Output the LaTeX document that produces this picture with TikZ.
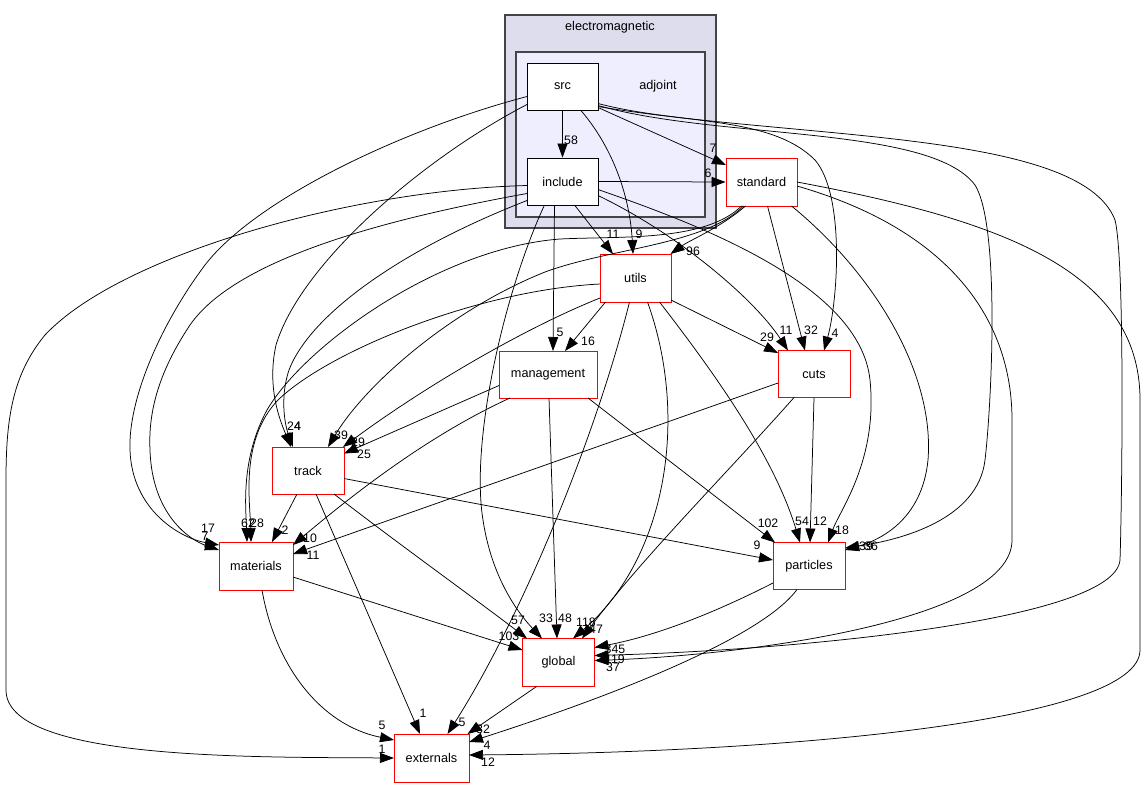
\documentclass[tikz,border=0pt]{standalone}
\usepackage{fontspec}
\setmainfont{Liberation Sans}
\usetikzlibrary{arrows.meta,calc}
\definecolor{clout}{HTML}{DDDDEE}
\definecolor{clin}{HTML}{EEEEFF}
\definecolor{clbd}{HTML}{444444}
\begin{document}
\begin{tikzpicture}[x=1pt,y=-1pt,
  dirbox/.style={draw=red,line width=0.8pt,fill=white,inner sep=0pt,minimum height=47pt,font=\fontsize{12.7}{14}\selectfont},
  curbox/.style={draw=black,line width=0.8pt,fill=white,inner sep=0pt,minimum height=47pt,minimum width=71pt,font=\fontsize{12.7}{14}\selectfont},
  dep/.style={draw=black,line width=0.75pt,-{Triangle[length=14pt,width=10pt]}},
  lbl/.style={inner sep=0pt,font=\fontsize{12.3}{14}\selectfont},
  cllbl/.style={inner sep=0pt,font=\fontsize{12.7}{14}\selectfont}]
\useasboundingbox (0,0) rectangle (1147,788);
\fill[white] (0,0) rectangle (1147,788);
% clusters
\draw[fill=clout,draw=clbd,line width=1.4pt] (505,15) rectangle (716,228);
\node[cllbl] (cem) at (610,27) {electromagnetic};
\draw[fill=clin,draw=clbd,line width=1.4pt] (516,52) rectangle (705,217);
\node[cllbl] (cadj) at (658,86) {adjoint};
% nodes
\node[curbox] (src) at (562.5,86.5) {src};
\node[curbox] (include) at (562.5,181.5) {include};
\node[dirbox,minimum width=71pt,minimum height=48pt] (standard) at (761.5,182) {standard};
\node[dirbox,minimum width=71pt,minimum height=48pt] (utils) at (635.5,278) {utils};
\node[dirbox,minimum width=98pt] (management) at (548,374.5) {management};
\node[dirbox,minimum width=72pt] (cuts) at (814,374) {cuts};
\node[dirbox,minimum width=72pt] (track) at (308,470.5) {track};
\node[dirbox,minimum width=74pt,minimum height=48pt] (materials) at (256,566) {materials};
\node[dirbox,minimum width=72pt] (particles) at (809,566) {particles};
\node[dirbox,minimum width=72pt,minimum height=48pt] (global) at (558.5,662.5) {global};
\node[dirbox,minimum width=75pt,minimum height=48pt] (externals) at (431.5,758) {externals};
% edges from src
\draw[dep] (src.south) -- (include.north);
\draw[dep] ($(src)+(35.5,21)$) -- ($(standard)+(-35.5,-17)$);
\draw[dep] ($(src)+(18,23.5)$) .. controls (615,150) and (630,200) .. ($(utils)+(-2.5,-24)$);
\draw[dep] ($(src)+(35.5,17)$) .. controls (680,125) and (770,115) .. (815,160) .. controls (845,195) and (838,300) .. ($(cuts)+(10,-23.5)$);
\draw[dep] ($(src)+(35.5,19)$) .. controls (720,140) and (930,125) .. (975,185) .. controls (1000,225) and (992,400) .. (985,460) .. controls (978,520) and (900,540) .. ($(particles)+(36,-18)$);
\draw[dep] ($(src)+(35.5,20)$) .. controls (800,140) and (1080,130) .. (1115,220) .. controls (1125,260) and (1122,500) .. (1120,560) .. controls (1115,620) and (800,650) .. ($(global)+(36,-7)$);
\draw[dep] ($(src)+(-35.5,10)$) .. controls (400,130) and (255,200) .. (205,265) .. controls (160,325) and (128,400) .. (130,450) .. controls (132,510) and (180,538) .. ($(materials)+(-37,-21)$);
\draw[dep] ($(src)+(-35.5,18)$) .. controls (420,160) and (300,265) .. (276,345) .. controls (266,390) and (282,425) .. ($(track)+(-17,-23.5)$);
% edges from include
\draw[dep] (include.east) -- (standard.west);
\draw[dep] ($(include)+(12,23.5)$) -- ($(utils)+(-22.5,-24)$);
\draw[dep] ($(include)+(-8,23.5)$) -- ($(management)+(5,-23.5)$);
\draw[dep] ($(include)+(-18,23.5)$) .. controls (505,290) and (470,440) .. (483,520) .. controls (492,580) and (520,615) .. ($(global)+(-16.5,-24)$);
\draw[dep] ($(include)+(35.5,14)$) .. controls (680,235) and (755,300) .. ($(cuts)+(-26,-23.5)$);
\draw[dep] ($(include)+(35.5,8)$) .. controls (700,225) and (860,285) .. (870,380) .. controls (878,460) and (840,510) .. ($(particles)+(19,-23.5)$);
\draw[dep] ($(include)+(-35.5,4)$) .. controls (350,190) and (120,255) .. (45,335) .. controls (12,375) and (6,420) .. (6,480) -- (6,690) .. controls (6,760) and (250,757) .. ($(externals)+(-37.5,0)$);
\draw[dep] ($(include)+(-35.5,12)$) .. controls (380,220) and (235,260) .. (190,325) .. controls (160,370) and (148,410) .. (150,450) .. controls (152,515) and (190,540) .. ($(materials)+(-37,-16)$);
\draw[dep] ($(include)+(-35.5,19)$) .. controls (400,250) and (310,315) .. (289,370) .. controls (279,400) and (286,428) .. ($(track)+(-15,-23.5)$);
% edges from standard
\draw[dep] ($(standard)+(-16,24)$) .. controls (720,228) and (690,240) .. ($(utils)+(35,-24)$);
\draw[dep] ($(standard)+(6,24)$) -- ($(cuts)+(-9,-23.5)$);
\draw[dep] ($(standard)+(30,24)$) .. controls (870,270) and (935,370) .. (928,460) .. controls (922,520) and (880,540) .. ($(particles)+(36,-16)$);
\draw[dep] ($(standard)+(35.5,4)$) .. controls (950,230) and (1012,320) .. (1012,420) -- (1012,540) .. controls (1012,620) and (750,655) .. ($(global)+(36,-2)$);
\draw[dep] ($(standard)+(35.5,0)$) .. controls (1000,220) and (1140,270) .. (1140,400) -- (1140,650) .. controls (1140,720) and (800,752) .. ($(externals)+(37.5,-3)$);
\draw[dep] ($(standard)+(-20,24)$) .. controls (705,242) and (620,236) .. (560,239) .. controls (440,248) and (305,345) .. (267,410) .. controls (240,460) and (246,510) .. ($(materials)+(-9,-24)$);
\draw[dep] ($(standard)+(-18,24)$) .. controls (705,245) and (610,248) .. (545,272) .. controls (450,310) and (365,385) .. ($(track)+(20,-23.5)$);
% edges from utils
\draw[dep] ($(utils)+(-30,24)$) -- ($(management)+(17,-23.5)$);
\draw[dep] ($(utils)+(35.5,22)$) -- ($(cuts)+(-36,-21)$);
\draw[dep] ($(utils)+(24,24)$) .. controls (720,380) and (775,460) .. ($(particles)+(-9,-23.5)$);
\draw[dep] ($(utils)+(12,24)$) .. controls (690,420) and (665,560) .. ($(global)+(14.5,-24)$);
\draw[dep] ($(utils)+(-6,24)$) .. controls (595,440) and (520,620) .. ($(externals)+(16,-24)$);
\draw[dep] ($(utils)+(-35.5,6)$) .. controls (480,290) and (330,350) .. (278,400) .. controls (240,440) and (250,500) .. ($(materials)+(-5,-24)$);
\draw[dep] ($(utils)+(-35.5,20)$) .. controls (520,330) and (420,390) .. ($(track)+(35,-23.5)$);
% edges from management
\draw[dep] ($(management)+(-49,11)$) -- ($(track)+(36,-17)$);
\draw[dep] ($(management)+(-38,23.5)$) .. controls (440,430) and (370,480) .. ($(materials)+(37,-21)$);
\draw[dep] ($(management)+(1,23.5)$) -- ($(global)+(-1.5,-24)$);
\draw[dep] ($(management)+(40,23.5)$) -- ($(particles)+(-34,-23.5)$);
% edges from cuts
\draw[dep] ($(cuts)+(-36,9)$) -- ($(materials)+(37,-12)$);
\draw[dep] ($(cuts)+(-20,23.5)$) .. controls (730,470) and (640,560) .. ($(global)+(23.5,-24)$);
\draw[dep] (cuts.south) -- ($(particles)+(1,-23.5)$);
% edges from track
\draw[dep] ($(track)+(-11,23.5)$) -- ($(materials)+(16,-24)$);
\draw[dep] ($(track)+(36,8)$) -- ($(particles)+(-36,-6)$);
\draw[dep] ($(track)+(26,23.5)$) .. controls (400,545) and (470,595) .. ($(global)+(-31.5,-24)$);
\draw[dep] ($(track)+(8,23.5)$) -- ($(externals)+(-11.5,-24)$);
% edges from materials
\draw[dep] ($(materials)+(37,11)$) -- ($(global)+(-36,-12.5)$);
\draw[dep] ($(materials)+(6,24)$) .. controls (275,665) and (320,725) .. ($(externals)+(-37.5,-18)$);
% edges from particles
\draw[dep] ($(particles)+(-36,17)$) .. controls (720,610) and (660,635) .. ($(global)+(36,-15)$);
\draw[dep] ($(particles)+(-12,23.5)$) .. controls (760,640) and (600,700) .. ($(externals)+(37.5,-16)$);
% edge from global
\draw[dep] ($(global)+(-22,24)$) -- ($(externals)+(36,-24)$);
% labels
\node[lbl] (l58) at (571,140) {58};
\node[lbl] (l7s) at (713,148) {7};
\node[lbl] (l6) at (708,173) {6};
\node[lbl] (l11u) at (613,234) {11};
\node[lbl] (l9u) at (639,234) {9};
\node[lbl] (l96) at (693,251) {96};
\node[lbl] (l5m) at (560,332) {5};
\node[lbl] (l16) at (588,341) {16};
\node[lbl] (l29c) at (767,337) {29};
\node[lbl] (l11c) at (786,330) {11};
\node[lbl] (l32c) at (811,330) {32};
\node[lbl] (l4c) at (835,333) {4};
\node[lbl] (l24) at (294,426) {24};
\node[lbl] (l4t) at (297.5,426) {4};
\node[lbl] (l39t) at (341,435) {39};
\node[lbl] (l29t) at (358,442) {29};
\node[lbl] (l25) at (364,454) {25};
\node[lbl] (l17) at (208,528) {17};
\node[lbl] (l7m) at (205,536) {7};
\node[lbl] (l62) at (248,523) {62};
\node[lbl] (l28) at (257,523) {28};
\node[lbl] (l2) at (285,530) {2};
\node[lbl] (l10) at (310,538) {10};
\node[lbl] (l11m) at (313,555) {11};
\node[lbl] (l102) at (768,523) {102};
\node[lbl] (l54) at (802,521) {54};
\node[lbl] (l12p) at (820,521) {12};
\node[lbl] (l18) at (842,530) {18};
\node[lbl] (l9p) at (757,545) {9};
\node[lbl] (l39p) at (866,546) {39};
\node[lbl] (l36p) at (871,546) {36};
\node[lbl] (l57) at (518,620) {57};
\node[lbl] (l33) at (546,618) {33};
\node[lbl] (l48) at (565,618) {48};
\node[lbl] (l118) at (586,622) {118};
\node[lbl] (l47) at (596,629) {47};
\node[lbl] (l103) at (509,636) {103};
\node[lbl] (l345) at (615,649) {345};
\node[lbl] (l119) at (615,659) {119};
\node[lbl] (l37) at (613,667) {37};
\node[lbl] (l1t) at (423,713) {1};
\node[lbl] (l5u) at (462,722) {5};
\node[lbl] (l5ma) at (382,725) {5};
\node[lbl] (l1i) at (382,749) {1};
\node[lbl] (l32g) at (483,729) {32};
\node[lbl] (l4p) at (487,745) {4};
\node[lbl] (l12s) at (488,762) {12};
\end{tikzpicture}
\end{document}
